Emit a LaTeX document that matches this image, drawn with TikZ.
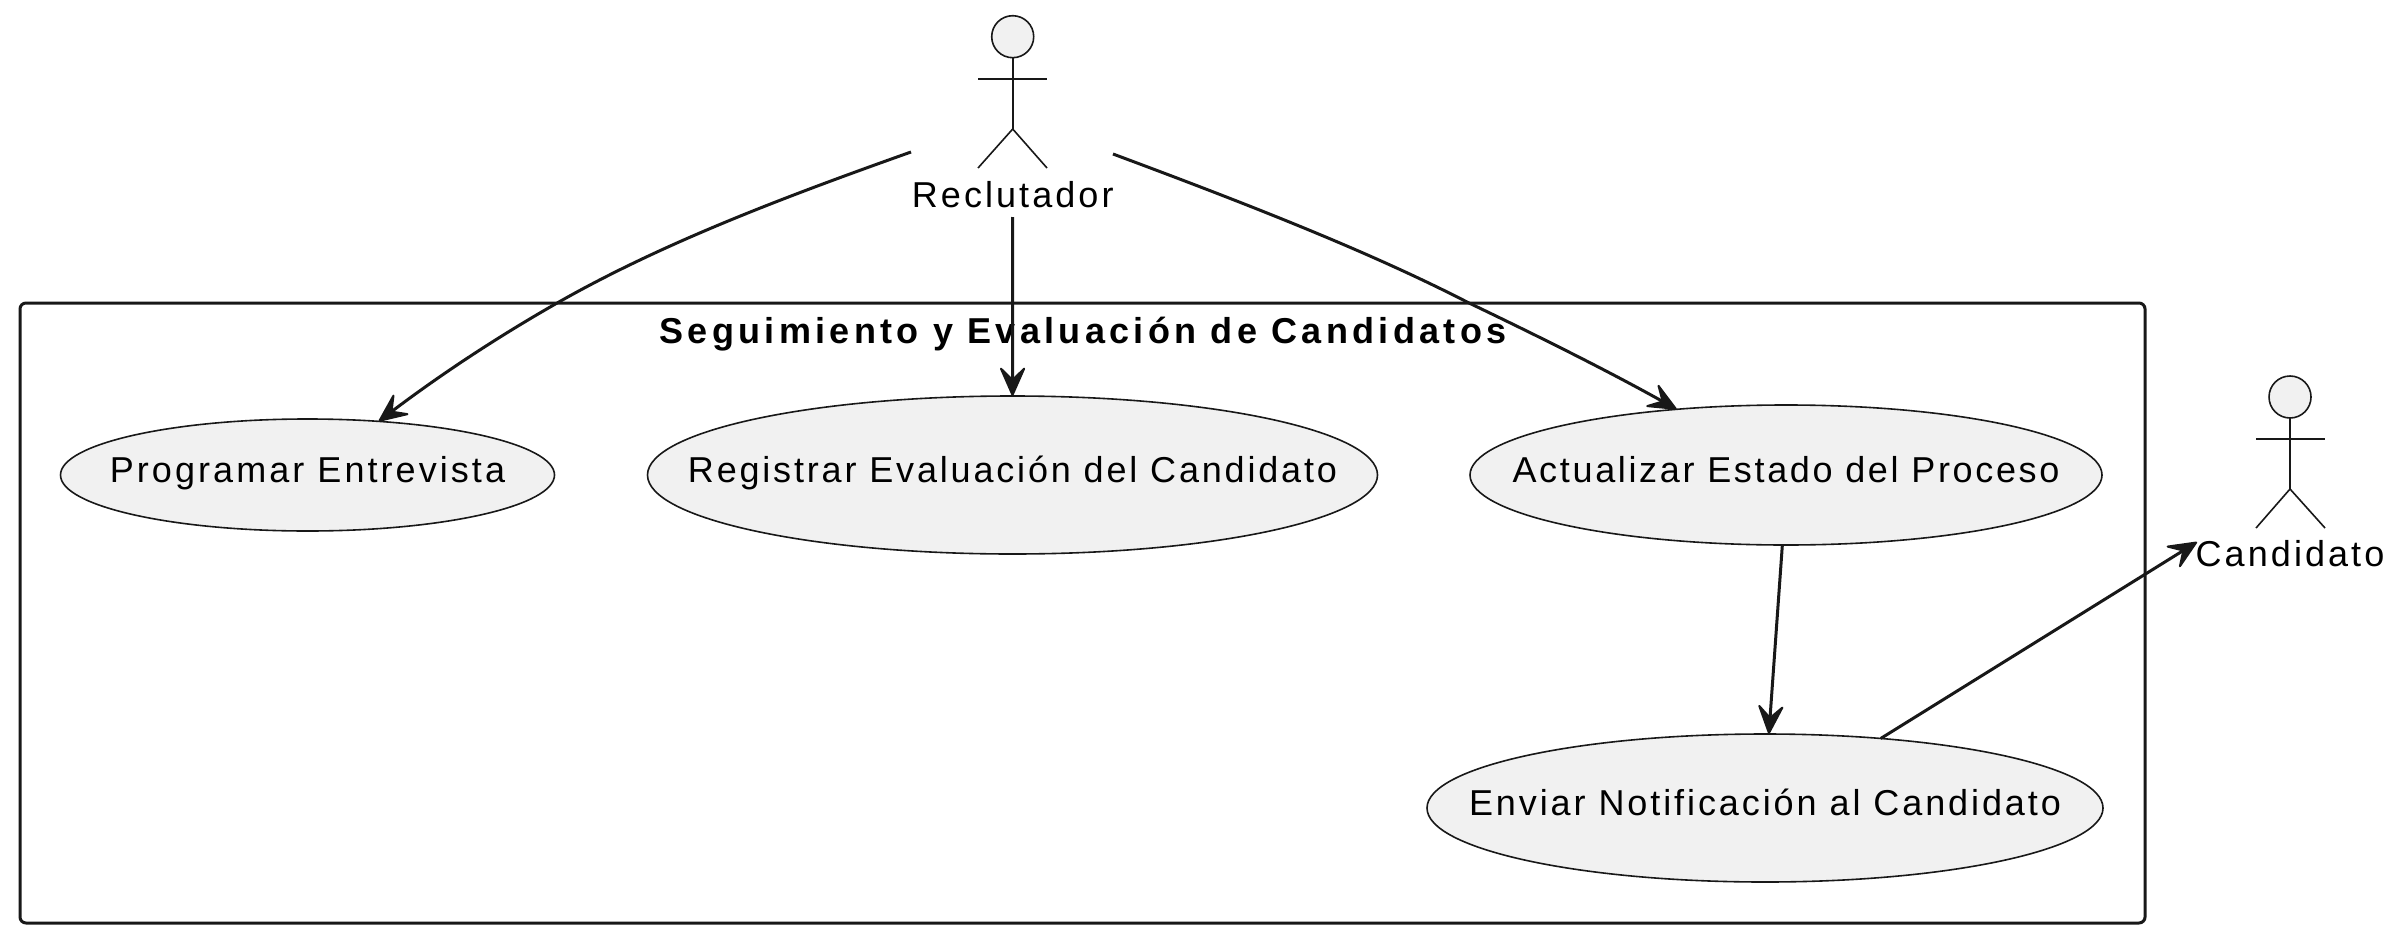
\documentclass[tikz,border=0pt]{standalone}
\usepackage{fontspec}
\setmainfont[LetterSpace=8.5]{Liberation Sans}
\newfontfamily\titlefont[LetterSpace=12.05]{Liberation Sans}
\usetikzlibrary{arrows.meta,shapes.geometric}
\definecolor{ink}{HTML}{181818}
\definecolor{uc}{HTML}{F1F1F1}
\tikzset{
  usecase/.style={ellipse,draw=ink,fill=uc,line width=1.6pt,inner sep=0pt,outer sep=0pt,
    text=black,text height=25pt,text depth=11pt,font=\fontsize{36}{42}\selectfont},
  actorhead/.style={circle,draw=ink,fill=uc,line width=1.6pt,minimum size=42pt,inner sep=0pt,outer sep=0pt},
  actorline/.style={draw=ink,line width=1.6pt},
  actorname/.style={anchor=base,inner sep=0pt,outer sep=0pt,text=black,font=\fontsize{36}{42}\selectfont},
  link/.style={draw=ink,line width=3pt,-{Stealth[length=33pt,width=29pt,inset=14pt,line width=2pt,round]}},
  frameline/.style={draw=ink,line width=3pt,rounded corners=6pt},
  frametitle/.style={anchor=base,inner sep=0pt,outer sep=0pt,text=black,font=\fontsize{36}{42}\selectfont\titlefont\bfseries}
}
\begin{document}
\begin{tikzpicture}[x=1pt,y=-1pt]
\useasboundingbox (0,0) rectangle (2400,939);
% frame
\draw[frameline] (20,303) rectangle (2145,923);
\node[frametitle] (title) at (1083,343) {Seguimiento y Evaluación de Candidatos};
% use cases
\node[usecase,minimum width=494pt,minimum height=112pt] (prog) at (307.5,475) {\makebox[0pt][c]{Programar Entrevista}};
\node[usecase,minimum width=730pt,minimum height=158pt] (reg) at (1012.5,475) {\makebox[0pt][c]{\addfontfeature{LetterSpace=7.85}Registrar Evaluación del Candidato}};
\node[usecase,minimum width=632pt,minimum height=140pt] (act) at (1786,475) {\makebox[0pt][c]{\addfontfeature{LetterSpace=7.4}Actualizar Estado del Proceso}};
\node[usecase,minimum width=676pt,minimum height=148pt] (env) at (1765,808) {\makebox[0pt][c]{\addfontfeature{LetterSpace=8.1}Enviar Notificación al Candidato}};
% actor Reclutador
\node[actorhead] (rechead) at (1012.7,36.7) {};
\coordinate (rechip) at (1012.7,129);
\draw[actorline] (rechead.south) -- (rechip);
\draw[actorline] (978,79) -- (1047,79);
\draw[actorline] (978,168) -- (rechip) -- (1047,168);
\node[actorname] (reclabel) at (1012.7,207) {Reclutador};
% actor Candidato
\node[actorhead] (canhead) at (2290,397) {};
\coordinate (canhip) at (2290,489);
\draw[actorline] (canhead.south) -- (canhip);
\draw[actorline] (2256,439) -- (2325,439);
\draw[actorline] (2256,528) -- (canhip) -- (2325,528);
\node[actorname] (canlabel) at (2290,566) {Candidato};
% connector ends
\coordinate (recL) at (911,152);
\coordinate (recB) at (1012.7,217);
\coordinate (recR) at (1113,154);
\coordinate (canL) at (2197,542);
% connectors
\draw[link] (recL) .. controls (790,195) and (670,240) .. (566,298) .. controls (500,335) and (440,375) .. (prog.37);
\draw[link] (recB) -- (reg.north);
\draw[link] (recR) .. controls (1250,205) and (1370,252) .. (1469,303) .. controls (1540,337) and (1610,372) .. (act.149);
\draw[link] (act.267.5) -- (env.87);
\draw[link] (env.31) -- (canL);
\end{tikzpicture}
\end{document}
